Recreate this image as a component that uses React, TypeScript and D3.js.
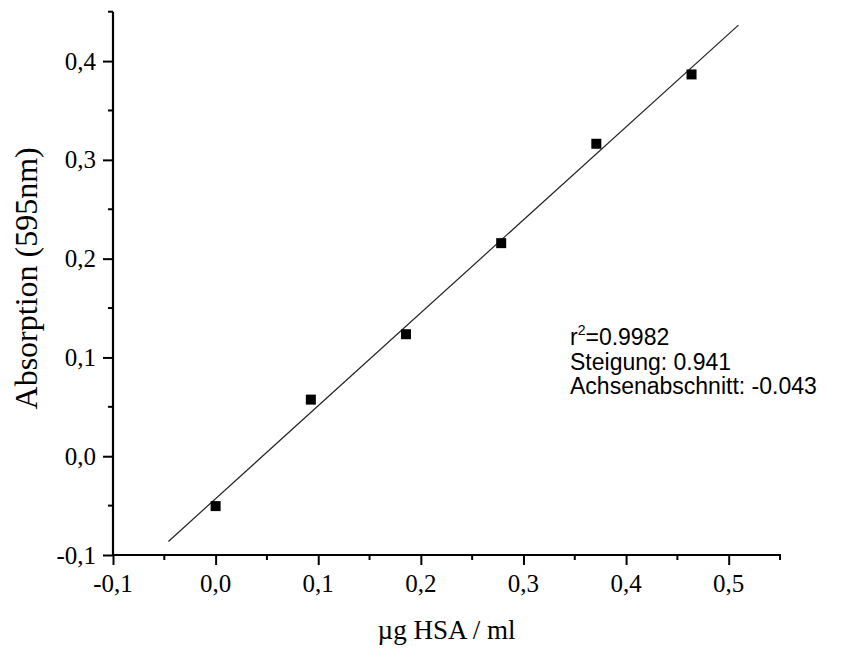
import React, { useEffect, useRef } from 'react';
import * as d3 from 'd3';

// measured standards
const concentration = [0, 0.0928, 0.1855, 0.2783, 0.371, 0.4638];
const absorption = [-0.0505, 0.0573, 0.1235, 0.2157, 0.3163, 0.3865];

// linear fit as printed on the chart
const slope = 0.941;
const intercept = -0.043;
const fitRange = [-0.046, 0.5095];
const fitInfo = ['=0.9982', 'Steigung: 0.941', 'Achsenabschnitt: -0.043'];

const xMajor = [-0.1, 0, 0.1, 0.2, 0.3, 0.4, 0.5];
const xMinor = [-0.05, 0.05, 0.15, 0.25, 0.35, 0.45, 0.55];
const yMajor = [-0.1, 0, 0.1, 0.2, 0.3, 0.4];
const yMinor = [-0.05, 0.05, 0.15, 0.25, 0.35, 0.45];

const xTitle = 'µg HSA / ml';
const yTitle = 'Absorption (595nm)';

const W = 842, H = 649;

const App = () => {
    const ref = useRef(null);

    useEffect(() => {
        const svg = d3.select(ref.current);
        svg.selectAll('*').remove();

        const x = d3.scaleLinear().domain([-0.1, 0.55]).range([113, 780]);
        const y = d3.scaleLinear().domain([-0.1, 0.45]).range([555, 11.7]);

        const fmt = d3.formatLocale({ decimal: ',', thousands: '.', grouping: [3], currency: ['', ''], minus: '-' }).format('.1f');
        const serif = 'Liberation Serif, Times New Roman, serif';
        const tickFont = 25;

        // x axis
        const xAxis = svg.append('g').attr('transform', `translate(0,${y(-0.1)})`);
        xAxis.call(d3.axisBottom(x).tickValues(xMajor).tickSize(10).tickSizeOuter(0).tickFormat(() => ''));
        xAxis.select('.domain').attr('stroke-width', 2.2).attr('d', `M${x(-0.1) - 1},0H${x(0.55) + 1}`);
        xAxis.selectAll('.tick line').attr('stroke-width', 2);
        xAxis.selectAll('.minor').data(xMinor).enter().append('line')
            .attr('x1', d => x(d)).attr('x2', d => x(d)).attr('y1', 0).attr('y2', 5)
            .attr('stroke', '#000').attr('stroke-width', 2);
        svg.append('g').selectAll('text').data(xMajor).enter().append('text')
            .attr('x', d => x(d)).attr('y', 592)
            .attr('text-anchor', 'middle')
            .style('font-family', serif).style('font-size', `${tickFont}px`)
            .text(d => fmt(d));

        // y axis
        const yAxis = svg.append('g').attr('transform', `translate(${x(-0.1)},0)`);
        yAxis.call(d3.axisLeft(y).tickValues(yMajor).tickSize(10).tickSizeOuter(0).tickFormat(() => ''));
        yAxis.select('.domain').attr('stroke-width', 2.2).attr('d', `M0,${y(0.45)}V${y(-0.1) + 1}`);
        yAxis.selectAll('.tick line').attr('stroke-width', 2);
        yAxis.selectAll('.minor').data(yMinor).enter().append('line')
            .attr('y1', d => y(d)).attr('y2', d => y(d)).attr('x1', 0).attr('x2', -5)
            .attr('stroke', '#000').attr('stroke-width', 2);
        svg.append('g').selectAll('text').data(yMajor).enter().append('text')
            .attr('x', 96).attr('y', d => y(d) + 8.5)
            .attr('text-anchor', 'end')
            .style('font-family', serif).style('font-size', `${tickFont}px`)
            .text(d => fmt(d));

        // fit line
        const line = d3.line().x(d => x(d)).y(d => y(slope * d + intercept));
        svg.append('path').datum(fitRange)
            .attr('d', line).attr('fill', 'none').attr('stroke', '#222').attr('stroke-width', 1.2);

        // points
        const s = 10;
        svg.selectAll('.pt').data(concentration).enter().append('rect')
            .attr('x', d => x(d) - s / 2)
            .attr('y', (d, i) => y(absorption[i]) - s / 2)
            .attr('width', s).attr('height', s).attr('fill', '#000');

        // titles
        svg.append('text').attr('x', (x(-0.1) + x(0.55)) / 2).attr('y', 639)
            .attr('text-anchor', 'middle').style('font-family', serif).style('font-size', '27px')
            .text(xTitle);
        svg.append('text').attr('transform', `translate(37,${(y(-0.1) + y(0.45)) / 2 - 5}) rotate(-90)`)
            .attr('text-anchor', 'middle').style('font-family', serif).style('font-size', '32px')
            .text(yTitle);

        // fit info
        const sans = 'Liberation Sans, Arial, sans-serif';
        const info = svg.append('g').style('font-family', sans).style('font-size', '23px').attr('fill', '#000');
        const t0 = info.append('text').attr('x', 570).attr('y', 345);
        t0.append('tspan').text('r');
        t0.append('tspan').attr('dy', -10).style('font-size', '14px').text('2');
        t0.append('tspan').attr('dy', 10).text(fitInfo[0]);
        fitInfo.slice(1).forEach((t, i) => {
            info.append('text').attr('x', 570).attr('y', 369.5 + i * 24.5).text(t);
        });
    }, []);

    return (
        <svg ref={ref} width={W} height={H} style={{ position: 'absolute', left: 0, top: 0, background: '#fff' }} />
    );
};

export default App;
